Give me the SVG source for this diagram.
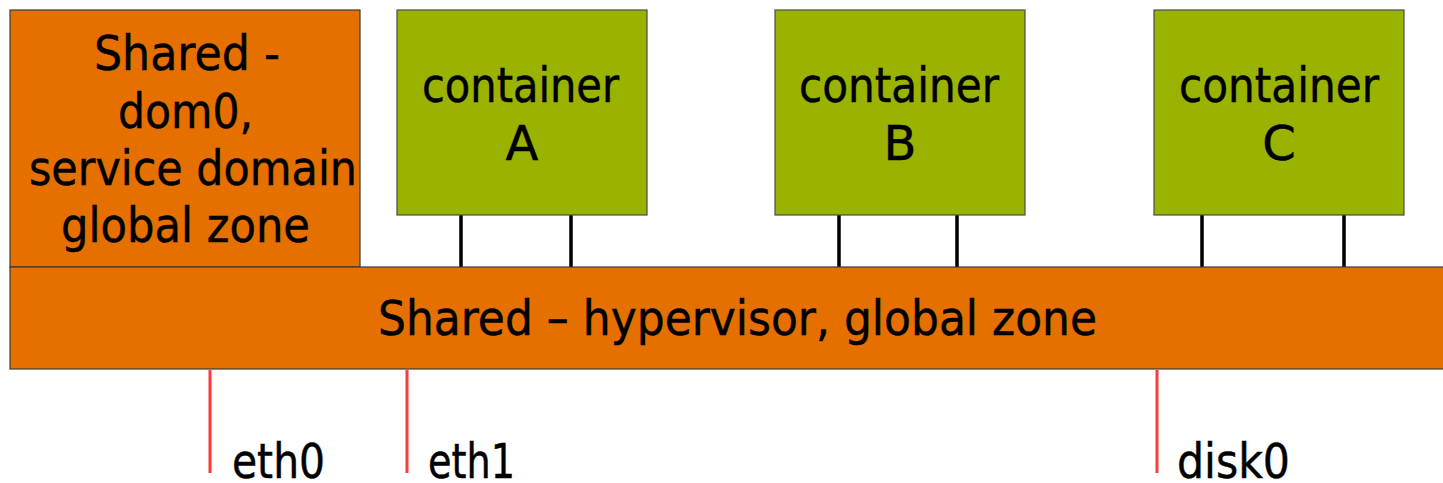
<svg xmlns="http://www.w3.org/2000/svg" width="1443" height="483" viewBox="0 0 1443 483">
  <style>
    .shared { fill: #E57000; stroke: #3a3a3a; stroke-width: 1.2; }
    .cont { fill: #99B300; stroke: #4a4a4a; stroke-width: 1.2; }
    .lbl { font-family: "DejaVu Sans", "Liberation Sans", sans-serif; font-size: 48px; fill: #000; stroke: #000; stroke-width: 0.5; }
    .mid { text-anchor: middle; }
    .link { stroke: #000; stroke-width: 3.5; }
    .dev { stroke: #FF3B3B; stroke-width: 3; }
  </style>
  <rect width="1443" height="483" fill="#fff"/>

  <!-- connectors: container links and device lines -->
  <g id="connectors">
    <line class="link" x1="461" y1="215" x2="461" y2="267"/>
    <line class="link" x1="571" y1="215" x2="571" y2="267"/>
    <line class="link" x1="839" y1="215" x2="839" y2="267"/>
    <line class="link" x1="957" y1="215" x2="957" y2="267"/>
    <line class="link" x1="1202" y1="215" x2="1202" y2="267"/>
    <line class="link" x1="1344" y1="215" x2="1344" y2="267"/>
    <line class="dev" x1="210" y1="370" x2="210" y2="473"/>
    <line class="dev" x1="407" y1="370" x2="407" y2="473"/>
    <line class="dev" x1="1157" y1="370" x2="1157" y2="473"/>
  </g>

  <g id="dom0">
    <rect class="shared" x="10" y="10" width="350" height="257"/>
    <text class="lbl" x="94" y="70" textLength="186" lengthAdjust="spacingAndGlyphs">Shared -</text>
    <text class="lbl" x="118" y="128" textLength="135" lengthAdjust="spacingAndGlyphs">dom0,</text>
    <text class="lbl" x="29" y="185" textLength="328" lengthAdjust="spacingAndGlyphs">service domain</text>
    <text class="lbl" x="61" y="242" textLength="249" lengthAdjust="spacingAndGlyphs">global zone</text>
  </g>

  <g id="containerA">
    <rect class="cont" x="397" y="10" width="250" height="205"/>
    <text class="lbl" x="422" y="102" textLength="197" lengthAdjust="spacingAndGlyphs">container</text>
    <text class="lbl mid" x="522" y="160">A</text>
  </g>

  <g id="containerB">
    <rect class="cont" x="775" y="10" width="250" height="205"/>
    <text class="lbl" x="799" y="102" textLength="200" lengthAdjust="spacingAndGlyphs">container</text>
    <text class="lbl mid" x="900" y="160">B</text>
  </g>

  <g id="containerC">
    <rect class="cont" x="1154" y="10" width="250" height="205"/>
    <text class="lbl" x="1179" y="102" textLength="200" lengthAdjust="spacingAndGlyphs">container</text>
    <text class="lbl mid" x="1279" y="160">C</text>
  </g>

  <g id="hypervisor">
    <rect class="shared" x="10" y="267" width="1440" height="102"/>
    <text class="lbl" x="378" y="335" textLength="719" lengthAdjust="spacingAndGlyphs">Shared – hypervisor, global zone</text>
  </g>

  <g id="eth0">
    <text class="lbl" x="232" y="478" textLength="93" lengthAdjust="spacingAndGlyphs">eth0</text>
  </g>
  <g id="eth1">
    <text class="lbl" x="428" y="478" textLength="87" lengthAdjust="spacingAndGlyphs">eth1</text>
  </g>
  <g id="disk0">
    <text class="lbl" x="1177" y="478" textLength="113" lengthAdjust="spacingAndGlyphs">disk0</text>
  </g>
</svg>
